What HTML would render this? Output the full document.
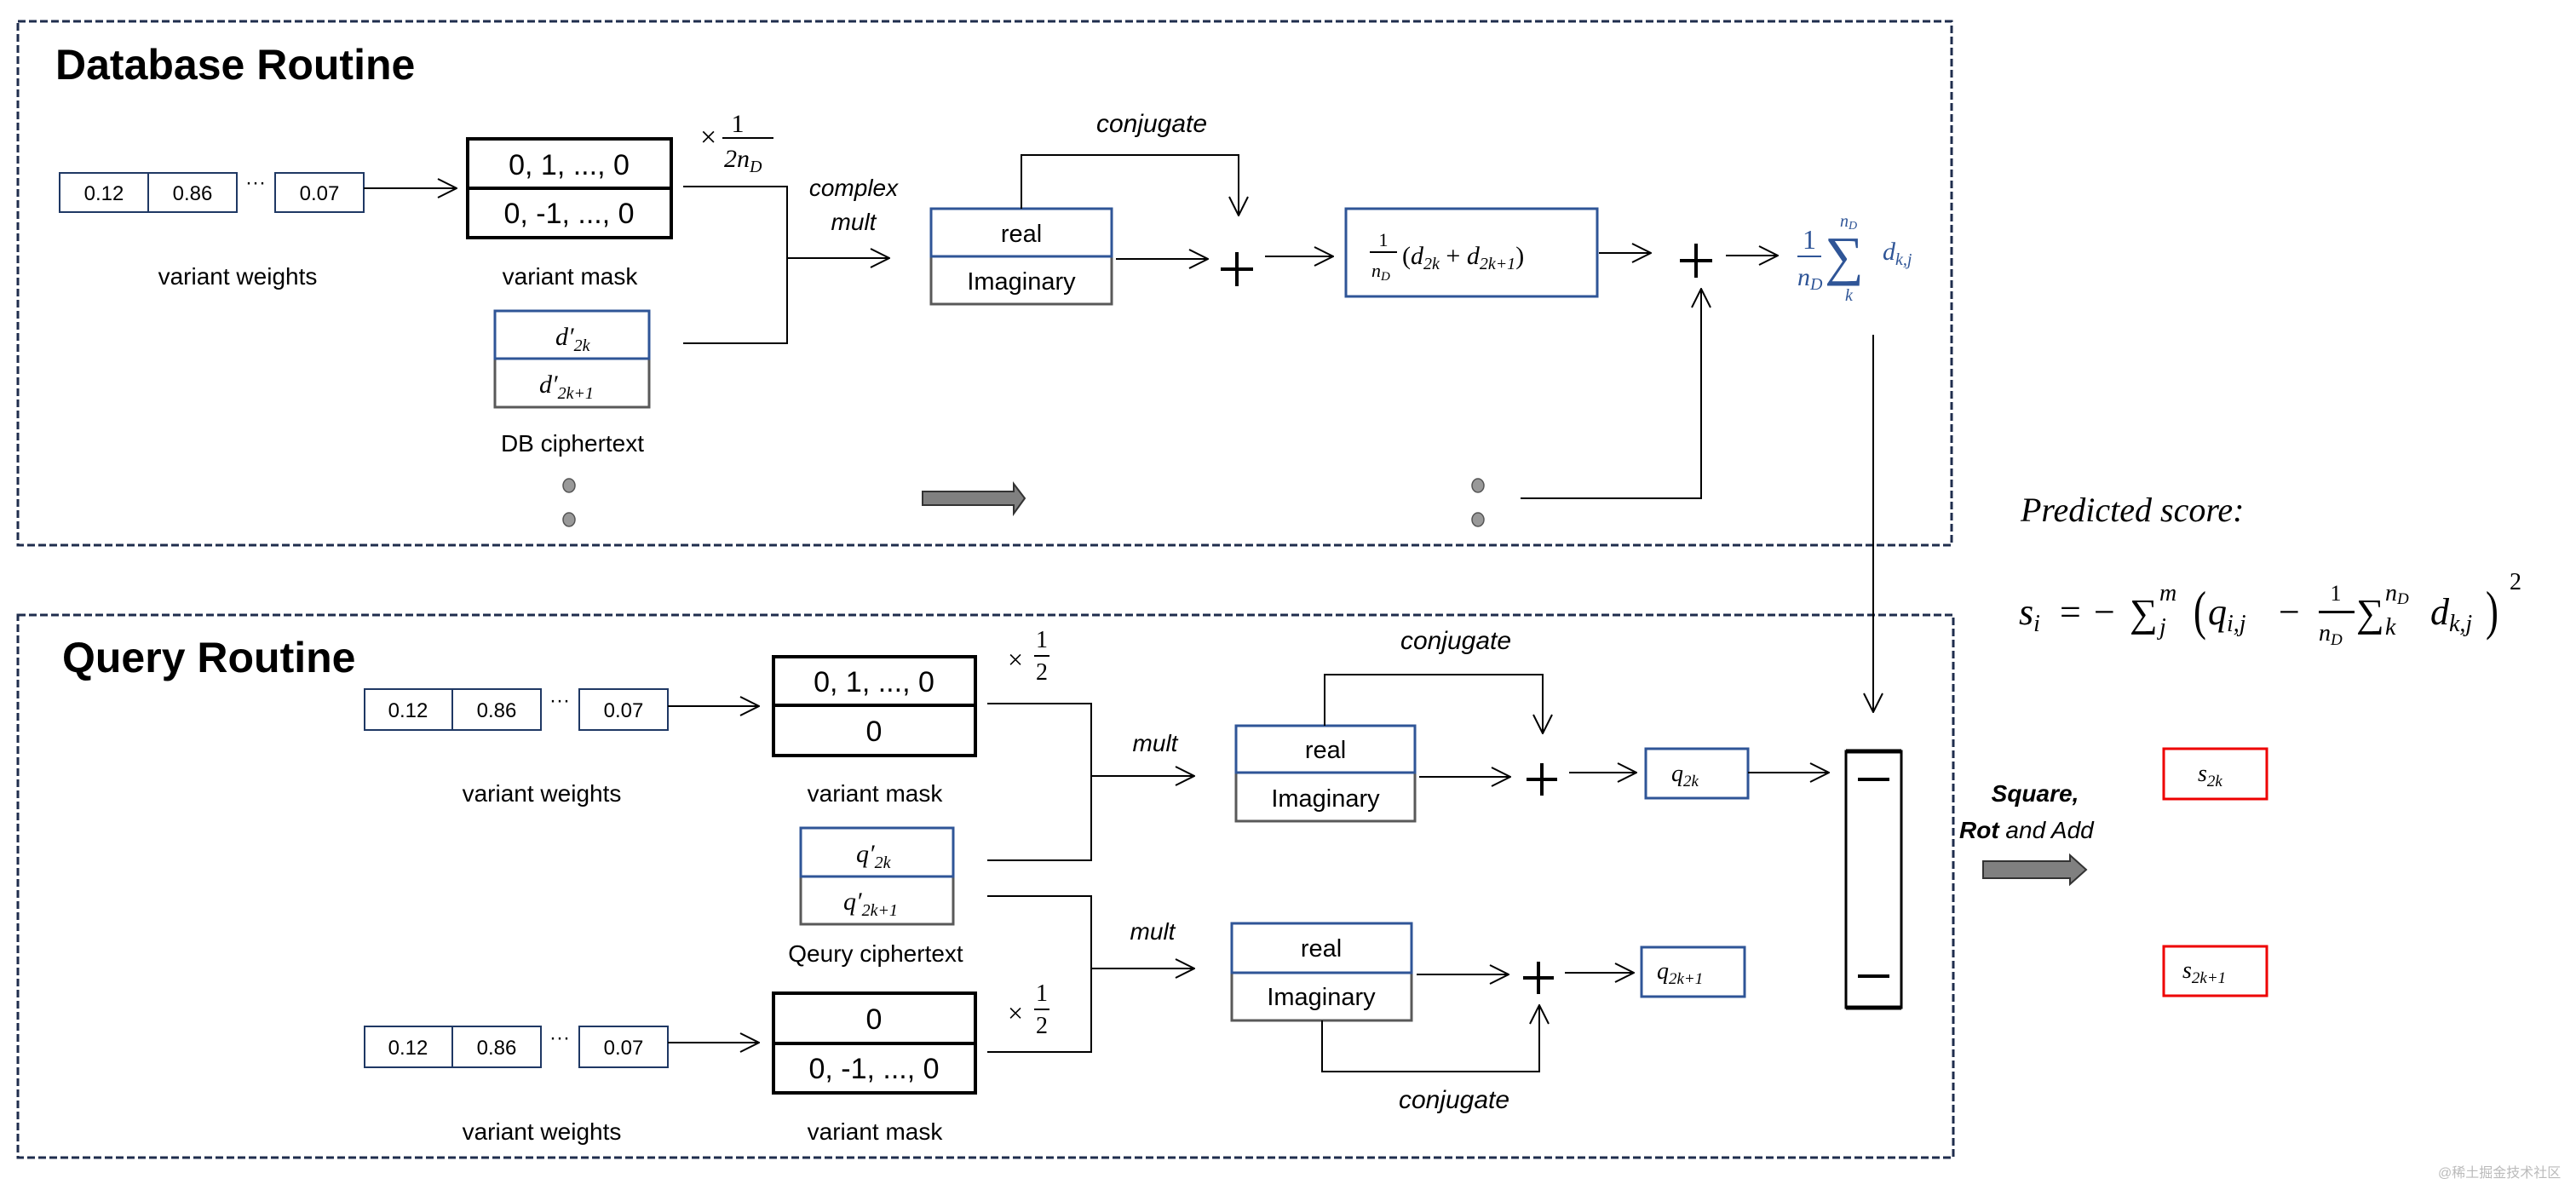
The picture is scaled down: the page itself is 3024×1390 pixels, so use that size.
<!DOCTYPE html>
<html><head><meta charset="utf-8"><style>
html,body{margin:0;padding:0;background:#fff}
svg{display:block}
text{font-family:"Liberation Sans",sans-serif}
.m,.m text{font-family:"Liberation Serif",serif;font-style:italic}
.mr,.m text.mr{font-family:"Liberation Serif",serif;font-style:normal}
</style></head><body>
<svg width="3024" height="1390" viewBox="0 0 3024 1390" xmlns="http://www.w3.org/2000/svg">
<defs>
<marker id="a" viewBox="0 0 24 24" refX="23" refY="12" markerWidth="24" markerHeight="24" markerUnits="userSpaceOnUse" orient="auto">
<path d="M1,1 L23,12 L1,23" fill="none" stroke="#000" stroke-width="2"/>
</marker>
</defs>
<rect x="21" y="25" width="2270" height="615" fill="none" stroke="#1f2d4d" stroke-width="3" stroke-dasharray="9,4"/>
<rect x="21" y="722" width="2272" height="637" fill="none" stroke="#1f2d4d" stroke-width="3" stroke-dasharray="9,4"/>
<text x="65" y="93" font-size="50" font-weight="bold">Database Routine</text>
<text x="73" y="789" font-size="50" font-weight="bold">Query Routine</text>

<g fill="#fff" stroke="#1f3864" stroke-width="2">
<rect x="70" y="203" width="104" height="46"/><rect x="174" y="203" width="104" height="46"/><rect x="323" y="203" width="104" height="46"/>
</g>
<g font-size="24" text-anchor="middle"><text x="122" y="235">0.12</text><text x="226" y="235">0.86</text><text x="375" y="235">0.07</text><text x="300" y="222">···</text></g>
<line x1="427" y1="221" x2="536" y2="221" stroke="#000" stroke-width="2" marker-end="url(#a)"/>
<rect x="549" y="163" width="239" height="116" fill="#fff" stroke="#000" stroke-width="4"/>
<line x1="549" y1="221" x2="788" y2="221" stroke="#000" stroke-width="4"/>
<g font-size="34" text-anchor="middle"><text x="668" y="205">0, 1, ..., 0</text><text x="668" y="262">0, -1, ..., 0</text></g>
<g font-size="28" text-anchor="middle"><text x="279" y="334">variant weights</text><text x="669" y="334">variant mask</text><text x="672" y="530">DB ciphertext</text></g>
<text x="822" y="172" font-size="34" class="mr">×</text>
<text x="866" y="155" font-size="30" class="mr" text-anchor="middle">1</text>
<line x1="848" y1="162" x2="908" y2="162" stroke="#000" stroke-width="2"/>
<text x="850" y="196" font-size="30" class="m">2n<tspan font-size="20" dy="6">D</tspan></text>
<polyline points="802,219 924,219 924,403 802,403" fill="none" stroke="#000" stroke-width="2"/>
<line x1="924" y1="303" x2="1044" y2="303" stroke="#000" stroke-width="2" marker-end="url(#a)"/>
<g font-size="28" font-style="italic" text-anchor="middle"><text x="1002" y="230">complex</text><text x="1002" y="270">mult</text></g>
<rect x="581" y="365" width="181" height="113" fill="#fff" stroke="#595959" stroke-width="3"/>
<rect x="581" y="365" width="181" height="56" fill="none" stroke="#2f5597" stroke-width="3"/>
<text x="652" y="405" font-size="30" class="m">d′<tspan font-size="20" dy="7">2k</tspan></text>
<text x="633" y="461" font-size="30" class="m">d′<tspan font-size="20" dy="7">2k+1</tspan></text>
<g fill="#999" stroke="#555" stroke-width="1.5"><ellipse cx="668" cy="570" rx="7" ry="8"/><ellipse cx="668" cy="610" rx="7" ry="8"/><ellipse cx="1735" cy="570" rx="7" ry="8"/><ellipse cx="1735" cy="610" rx="7" ry="8"/></g>
<path d="M1083,577 L1190,577 L1190,568 L1203,585 L1190,603 L1190,593 L1083,593 Z" fill="#808080" stroke="#333" stroke-width="2"/>
<rect x="1093" y="245" width="212" height="112" fill="#fff" stroke="#595959" stroke-width="3"/>
<rect x="1093" y="245" width="212" height="56" fill="none" stroke="#2f5597" stroke-width="3"/>
<g font-size="29" text-anchor="middle"><text x="1199" y="284">real</text><text x="1199" y="340">Imaginary</text></g>
<polyline points="1199,245 1199,182 1454,182 1454,253" fill="none" stroke="#000" stroke-width="2" marker-end="url(#a)"/>
<text x="1352" y="155" font-size="30" font-style="italic" text-anchor="middle">conjugate</text>
<line x1="1310" y1="304" x2="1418" y2="304" stroke="#000" stroke-width="2" marker-end="url(#a)"/>
<path d="M1452,296 V336 M1433,316 H1471" stroke="#000" stroke-width="4"/>
<line x1="1485" y1="301" x2="1565" y2="301" stroke="#000" stroke-width="2" marker-end="url(#a)"/>
<rect x="1580" y="245" width="295" height="103" fill="#fff" stroke="#2f5597" stroke-width="3"/>
<text x="1624" y="289" font-size="22" class="mr" text-anchor="middle">1</text>
<line x1="1608" y1="296" x2="1640" y2="296" stroke="#000" stroke-width="2"/>
<text x="1610" y="325" font-size="22" class="m">n<tspan font-size="15" dy="4">D</tspan></text>
<text x="1646" y="310" font-size="30" class="m"><tspan class="mr">(</tspan>d<tspan font-size="20" dy="6">2k</tspan><tspan class="mr" dy="-6"> + </tspan>d<tspan font-size="20" dy="6">2k+1</tspan><tspan class="mr" dy="-6">)</tspan></text>
<line x1="1877" y1="297" x2="1938" y2="297" stroke="#000" stroke-width="2" marker-end="url(#a)"/>
<path d="M1991,286 V326 M1972,306 H2010" stroke="#000" stroke-width="4"/>
<line x1="2026" y1="300" x2="2087" y2="300" stroke="#000" stroke-width="2" marker-end="url(#a)"/>
<polyline points="1785,585 1997,585 1997,339" fill="none" stroke="#000" stroke-width="2" marker-end="url(#a)"/>
<g fill="#2f5597" stroke="none">
<text x="2124" y="292" font-size="32" class="mr" text-anchor="middle">1</text>
<rect x="2110" y="300" width="28" height="2"/>
<text x="2110" y="335" font-size="30" class="m">n<tspan font-size="20" dy="5">D</tspan></text>
<text x="2142" y="322" font-size="64" class="mr">∑</text>
<text x="2160" y="266" font-size="20" class="m">n<tspan font-size="14" dy="3">D</tspan></text>
<text x="2166" y="353" font-size="20" class="m">k</text>
<text x="2210" y="305" font-size="30" class="m">d<tspan font-size="20" dy="6">k,j</tspan></text>
</g>
<line x1="2199" y1="393" x2="2199" y2="836" stroke="#000" stroke-width="2" marker-end="url(#a)"/>

<g fill="#fff" stroke="#1f3864" stroke-width="2">
<rect x="428" y="809" width="103" height="48"/><rect x="531" y="809" width="104" height="48"/><rect x="680" y="809" width="104" height="48"/>
<rect x="428" y="1205" width="103" height="48"/><rect x="531" y="1205" width="104" height="48"/><rect x="680" y="1205" width="104" height="48"/>
</g>
<g font-size="24" text-anchor="middle">
<text x="479" y="842">0.12</text><text x="583" y="842">0.86</text><text x="732" y="842">0.07</text><text x="657" y="830">···</text>
<text x="479" y="1238">0.12</text><text x="583" y="1238">0.86</text><text x="732" y="1238">0.07</text><text x="657" y="1226">···</text>
</g>
<line x1="784" y1="829" x2="891" y2="829" stroke="#000" stroke-width="2" marker-end="url(#a)"/>
<line x1="784" y1="1224" x2="891" y2="1224" stroke="#000" stroke-width="2" marker-end="url(#a)"/>
<rect x="908" y="771" width="237" height="116" fill="#fff" stroke="#000" stroke-width="4"/>
<line x1="908" y1="828" x2="1145" y2="828" stroke="#000" stroke-width="4"/>
<rect x="908" y="1166" width="237" height="117" fill="#fff" stroke="#000" stroke-width="4"/>
<line x1="908" y1="1225" x2="1145" y2="1225" stroke="#000" stroke-width="4"/>
<g font-size="34" text-anchor="middle"><text x="1026" y="812">0, 1, ..., 0</text><text x="1026" y="870">0</text><text x="1026" y="1208">0</text><text x="1026" y="1266">0, -1, ..., 0</text></g>
<g font-size="28" text-anchor="middle"><text x="636" y="941">variant weights</text><text x="1027" y="941">variant mask</text><text x="1028" y="1129">Qeury ciphertext</text><text x="636" y="1338">variant weights</text><text x="1027" y="1338">variant mask</text></g>
<text x="1183" y="785" font-size="32" class="mr">×</text>
<text x="1223" y="760" font-size="28" class="mr" text-anchor="middle">1</text>
<line x1="1214" y1="770" x2="1232" y2="770" stroke="#000" stroke-width="2"/>
<text x="1223" y="798" font-size="28" class="mr" text-anchor="middle">2</text>
<text x="1183" y="1200" font-size="32" class="mr">×</text>
<text x="1223" y="1175" font-size="28" class="mr" text-anchor="middle">1</text>
<line x1="1214" y1="1185" x2="1232" y2="1185" stroke="#000" stroke-width="2"/>
<text x="1223" y="1213" font-size="28" class="mr" text-anchor="middle">2</text>
<rect x="940" y="972" width="179" height="113" fill="#fff" stroke="#595959" stroke-width="3"/>
<rect x="940" y="972" width="179" height="57" fill="none" stroke="#2f5597" stroke-width="3"/>
<text x="1005" y="1012" font-size="30" class="m">q′<tspan font-size="20" dy="7">2k</tspan></text>
<text x="990" y="1068" font-size="30" class="m">q′<tspan font-size="20" dy="7">2k+1</tspan></text>
<polyline points="1159,826 1281,826 1281,1010 1159,1010" fill="none" stroke="#000" stroke-width="2"/>
<polyline points="1159,1052 1281,1052 1281,1235 1159,1235" fill="none" stroke="#000" stroke-width="2"/>
<line x1="1281" y1="911" x2="1402" y2="911" stroke="#000" stroke-width="2" marker-end="url(#a)"/>
<line x1="1281" y1="1137" x2="1402" y2="1137" stroke="#000" stroke-width="2" marker-end="url(#a)"/>
<g font-size="28" font-style="italic" text-anchor="middle"><text x="1356" y="882">mult</text><text x="1353" y="1103">mult</text></g>
<rect x="1451" y="852" width="210" height="112" fill="#fff" stroke="#595959" stroke-width="3"/>
<rect x="1451" y="852" width="210" height="55" fill="none" stroke="#2f5597" stroke-width="3"/>
<g font-size="29" text-anchor="middle"><text x="1556" y="890">real</text><text x="1556" y="947">Imaginary</text></g>
<polyline points="1555,852 1555,792 1811,792 1811,861" fill="none" stroke="#000" stroke-width="2" marker-end="url(#a)"/>
<text x="1709" y="762" font-size="30" font-style="italic" text-anchor="middle">conjugate</text>
<line x1="1666" y1="912" x2="1773" y2="912" stroke="#000" stroke-width="2" marker-end="url(#a)"/>
<path d="M1810,896 V934 M1792,915 H1828" stroke="#000" stroke-width="4"/>
<line x1="1842" y1="907" x2="1921" y2="907" stroke="#000" stroke-width="2" marker-end="url(#a)"/>
<rect x="1932" y="879" width="120" height="58" fill="#fff" stroke="#2f5597" stroke-width="3"/>
<text x="1962" y="917" font-size="28" class="m">q<tspan font-size="19" dy="6">2k</tspan></text>
<line x1="2052" y1="907" x2="2147" y2="907" stroke="#000" stroke-width="2" marker-end="url(#a)"/>
<rect x="1446" y="1084" width="211" height="114" fill="#fff" stroke="#595959" stroke-width="3"/>
<rect x="1446" y="1084" width="211" height="58" fill="none" stroke="#2f5597" stroke-width="3"/>
<g font-size="29" text-anchor="middle"><text x="1551" y="1123">real</text><text x="1551" y="1180">Imaginary</text></g>
<polyline points="1552,1198 1552,1258 1807,1258 1807,1180" fill="none" stroke="#000" stroke-width="2" marker-end="url(#a)"/>
<text x="1707" y="1301" font-size="30" font-style="italic" text-anchor="middle">conjugate</text>
<line x1="1663" y1="1144" x2="1771" y2="1144" stroke="#000" stroke-width="2" marker-end="url(#a)"/>
<path d="M1806,1129 V1167 M1788,1148 H1824" stroke="#000" stroke-width="4"/>
<line x1="1837" y1="1142" x2="1918" y2="1142" stroke="#000" stroke-width="2" marker-end="url(#a)"/>
<rect x="1927" y="1112" width="121" height="58" fill="#fff" stroke="#2f5597" stroke-width="3"/>
<text x="1945" y="1149" font-size="28" class="m">q<tspan font-size="19" dy="6">2k+1</tspan></text>
<rect x="2167" y="882" width="65" height="301" fill="#fff" stroke="#000" stroke-width="3"/>
<line x1="2167" y1="882" x2="2232" y2="882" stroke="#000" stroke-width="5"/>
<line x1="2167" y1="1183" x2="2232" y2="1183" stroke="#000" stroke-width="5"/>
<line x1="2181" y1="915" x2="2218" y2="915" stroke="#000" stroke-width="4"/>
<line x1="2181" y1="1146" x2="2218" y2="1146" stroke="#000" stroke-width="4"/>
<text x="2389" y="941" font-size="28" font-weight="bold" font-style="italic" text-anchor="middle">Square,</text>
<text x="2300" y="984" font-size="28" font-style="italic"><tspan font-weight="bold">Rot</tspan> and Add</text>
<path d="M2328,1011 L2430,1011 L2430,1004 L2449,1021 L2430,1038 L2430,1031 L2328,1031 Z" fill="#808080" stroke="#333" stroke-width="2"/>
<rect x="2540" y="879" width="121" height="59" fill="#fff" stroke="#e00" stroke-width="3"/>
<text x="2580" y="917" font-size="28" class="m">s<tspan font-size="19" dy="6">2k</tspan></text>
<rect x="2540" y="1111" width="121" height="58" fill="#fff" stroke="#e00" stroke-width="3"/>
<text x="2562" y="1148" font-size="28" class="m">s<tspan font-size="19" dy="6">2k+1</tspan></text>
<text x="2372" y="612" font-size="40" class="m">Predicted score:</text>
<g class="m" font-size="44">
<text x="2370" y="733">s<tspan font-size="28" dy="8">i</tspan></text>
<text x="2418" y="733" class="mr">=</text>
<text x="2458" y="733" class="mr">−</text>
<text x="2500" y="735" class="mr" font-size="46">∑</text>
<text x="2535" y="705" font-size="28">m</text>
<text x="2535" y="745" font-size="28">j</text>
<text x="2575" y="738" class="mr" font-size="64" transform="translate(2575,738) scale(0.7,1) translate(-2575,-738)">(</text>
<text x="2592" y="733">q<tspan font-size="28" dy="8">i,j</tspan></text>
<text x="2675" y="733" class="mr">−</text>
<text x="2742" y="705" class="mr" font-size="26" text-anchor="middle">1</text>
<rect x="2722" y="717" width="42" height="3" fill="#000"/>
<text x="2722" y="752" font-size="28">n<tspan font-size="19" dy="5">D</tspan></text>
<text x="2766" y="735" class="mr" font-size="46">∑</text>
<text x="2800" y="705" font-size="28">n<tspan font-size="19" dy="4">D</tspan></text>
<text x="2800" y="745" font-size="28">k</text>
<text x="2853" y="733">d<tspan font-size="28" dy="8">k,j</tspan></text>
<text x="2918" y="738" class="mr" font-size="64" transform="translate(2918,738) scale(0.7,1) translate(-2918,-738)">)</text>
<text x="2946" y="692" class="mr" font-size="28">2</text>
</g>
<text x="2862" y="1382" font-size="16" fill="#bbb" font-family="'Liberation Sans','Noto Sans CJK SC',sans-serif">@稀土掘金技术社区</text>
</svg>
</body></html>
